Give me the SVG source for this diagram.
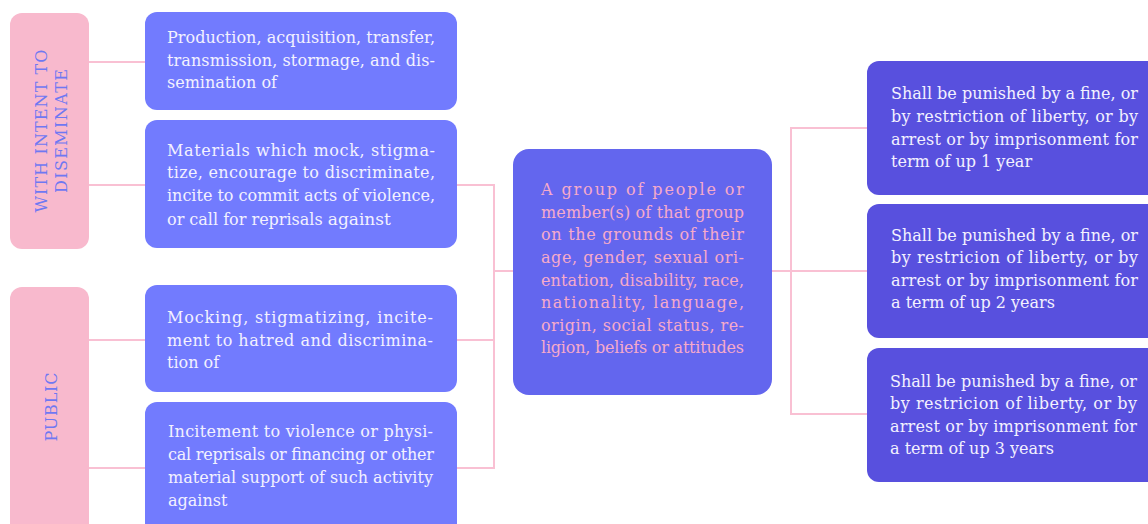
<svg xmlns="http://www.w3.org/2000/svg" width="1148" height="524" viewBox="0 0 1148 524">
  <style>
    .lbl { fill: #F8B9CD; }
    .lbl-t { fill: #6F78F2; font-family: "DejaVu Serif", serif; font-size: 16px; }
    .act { fill: #727BFE; }
    .grp { fill: #6366EE; }
    .pen { fill: #5850DE; }
    .t { font-family: "DejaVu Serif", serif; font-size: 16px; fill: #F3F1FF; }
    .tc { font-family: "DejaVu Serif", serif; font-size: 16px; fill: #F6AACA; }
    .wire { fill: none; stroke: #F9C0D3; stroke-width: 2; }
  </style>

  <rect width="1148" height="524" fill="#FFFFFF"/>

  <!-- connectors -->
  <g id="connectors" class="wire">
    <path d="M89 62 H145"/>
    <path d="M89 185 H145"/>
    <path d="M89 340 H145"/>
    <path d="M89 468 H145"/>
    <path d="M457 185 H494 V468 H457"/>
    <path d="M457 340 H494"/>
    <path d="M494 271 H513"/>
    <path d="M772 271 H867"/>
    <path d="M867 128 H791 V414 H867"/>
  </g>

  <!-- category labels -->
  <g id="label-intent">
    <rect class="lbl" x="10" y="13" width="79" height="236" rx="12"/>
    <text class="lbl-t" transform="translate(47,131) rotate(-90)" text-anchor="middle" textLength="163" lengthAdjust="spacing">WITH INTENT TO</text>
    <text class="lbl-t" transform="translate(67,131) rotate(-90)" text-anchor="middle" textLength="124" lengthAdjust="spacing">DISEMINATE</text>
  </g>
  <g id="label-public">
    <rect class="lbl" x="10" y="287" width="79" height="260" rx="12"/>
    <text class="lbl-t" transform="translate(57,407) rotate(-90)" text-anchor="middle" textLength="69" lengthAdjust="spacing">PUBLIC</text>
  </g>

  <!-- acts -->
  <g id="act-production">
    <rect class="act" x="145" y="12" width="312" height="98" rx="12"/>
    <text class="t" x="167" y="43" textLength="268" lengthAdjust="spacing">Production, acquisition, transfer,</text>
    <text class="t" x="167" y="66" textLength="268" lengthAdjust="spacing">transmission, stormage, and dis-</text>
    <text class="t" x="167" y="88">semination of</text>
  </g>
  <g id="act-materials">
    <rect class="act" x="145" y="120" width="312" height="128" rx="12"/>
    <text class="t" x="167" y="156" textLength="268" lengthAdjust="spacing">Materials which mock, stigma-</text>
    <text class="t" x="167" y="178" textLength="268" lengthAdjust="spacing">tize, encourage to discriminate,</text>
    <text class="t" x="167" y="201" textLength="268" lengthAdjust="spacing">incite to commit acts of violence,</text>
    <text class="t" x="167" y="225">or call for reprisals <tspan font-size="17">against</tspan></text>
  </g>
  <g id="act-mocking">
    <rect class="act" x="145" y="285" width="312" height="107" rx="12"/>
    <text class="t" x="167" y="323" textLength="266" lengthAdjust="spacing">Mocking, stigmatizing, incite-</text>
    <text class="t" x="167" y="346" textLength="266" lengthAdjust="spacing">ment to hatred and discrimina-</text>
    <text class="t" x="167" y="368">tion of</text>
  </g>
  <g id="act-incitement">
    <rect class="act" x="145" y="402" width="312" height="140" rx="12"/>
    <text class="t" x="168" y="437" textLength="265" lengthAdjust="spacing">Incitement to violence or physi-</text>
    <text class="t" x="168" y="460" textLength="266" lengthAdjust="spacing">cal reprisals or financing or other</text>
    <text class="t" x="168" y="483" textLength="265" lengthAdjust="spacing">material support of such activity</text>
    <text class="t" x="168" y="506">against</text>
  </g>

  <!-- protected group -->
  <g id="group">
    <rect class="grp" x="513" y="149" width="259" height="246" rx="16"/>
    <text class="tc" x="541" y="195" textLength="203" lengthAdjust="spacing">A group of people or</text>
    <text class="tc" x="541" y="218" textLength="203" lengthAdjust="spacing">member(s) of that group</text>
    <text class="tc" x="541" y="240" textLength="203" lengthAdjust="spacing">on the grounds of their</text>
    <text class="tc" x="541" y="263" textLength="203" lengthAdjust="spacing">age, gender, sexual ori-</text>
    <text class="tc" x="541" y="286" textLength="203" lengthAdjust="spacing">entation, disability, race,</text>
    <text class="tc" x="541" y="308" textLength="203" lengthAdjust="spacing">nationality, language,</text>
    <text class="tc" x="541" y="331" textLength="203" lengthAdjust="spacing">origin, social status, re-</text>
    <text class="tc" x="541" y="353" textLength="203" lengthAdjust="spacing">ligion, beliefs or attitudes</text>
  </g>

  <!-- penalties -->
  <g id="penalty-1">
    <rect class="pen" x="867" y="61" width="300" height="134" rx="12"/>
    <text class="t" x="891" y="99" textLength="247" lengthAdjust="spacing">Shall be punished by a fine, or</text>
    <text class="t" x="891" y="122" textLength="247" lengthAdjust="spacing">by restriction of liberty, or by</text>
    <text class="t" x="891" y="145" textLength="247" lengthAdjust="spacing">arrest or by imprisonment for</text>
    <text class="t" x="891" y="167">term of up 1 year</text>
  </g>
  <g id="penalty-2">
    <rect class="pen" x="867" y="204" width="300" height="134" rx="12"/>
    <text class="t" x="891" y="241" textLength="247" lengthAdjust="spacing">Shall be punished by a fine, or</text>
    <text class="t" x="891" y="263" textLength="247" lengthAdjust="spacing">by restricion of liberty, or by</text>
    <text class="t" x="891" y="286" textLength="247" lengthAdjust="spacing">arrest or by imprisonment for</text>
    <text class="t" x="891" y="308">a term of up 2 years</text>
  </g>
  <g id="penalty-3">
    <rect class="pen" x="867" y="348" width="300" height="134" rx="12"/>
    <text class="t" x="890" y="387" textLength="247" lengthAdjust="spacing">Shall be punished by a fine, or</text>
    <text class="t" x="890" y="409" textLength="247" lengthAdjust="spacing">by restricion of liberty, or by</text>
    <text class="t" x="890" y="432" textLength="247" lengthAdjust="spacing">arrest or by imprisonment for</text>
    <text class="t" x="890" y="454">a term of up 3 years</text>
  </g>
</svg>
